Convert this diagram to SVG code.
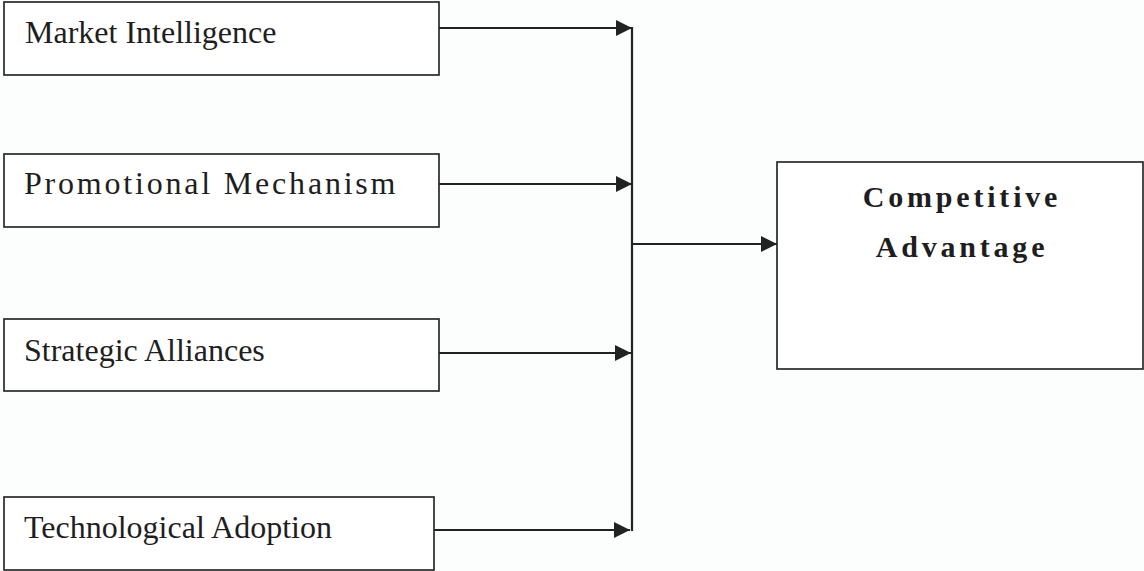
<svg xmlns="http://www.w3.org/2000/svg" width="1144" height="571" viewBox="0 0 1144 571">
  <style>
    .box { fill: #ffffff; stroke: #2a2a2a; stroke-width: 1.7; }
    .lbl { font-family: "Liberation Serif", "Times New Roman", serif; font-size: 32px; fill: #1e1e1e; }
    .big { font-family: "Liberation Serif", "Times New Roman", serif; font-size: 30px; font-weight: bold; fill: #1e1e1e; letter-spacing: 3.8px; }
    .conn { stroke: #222222; stroke-width: 2.2; fill: none; }
  </style>
  <defs>
    <marker id="arr" viewBox="0 0 16 16" markerUnits="userSpaceOnUse" markerWidth="16" markerHeight="16" refX="16" refY="8" orient="auto">
      <path d="M0,0 L16,8 L0,16 z" fill="#222222"/>
    </marker>
  </defs>
  <rect width="1144" height="571" fill="#fcfdfd"/>

  <g id="market-intelligence">
    <rect class="box" x="4" y="2" width="435" height="73"/>
    <text class="lbl" x="25" y="43">Market Intelligence</text>
  </g>
  <g id="promotional-mechanism">
    <rect class="box" x="4" y="154" width="435" height="73"/>
    <text class="lbl" x="24" y="194" letter-spacing="2.8">Promotional Mechanism</text>
  </g>
  <g id="strategic-alliances">
    <rect class="box" x="4" y="319" width="435" height="72"/>
    <text class="lbl" x="24" y="361">Strategic Alliances</text>
  </g>
  <g id="technological-adoption">
    <rect class="box" x="4" y="497" width="430" height="73"/>
    <text class="lbl" x="24" y="538">Technological Adoption</text>
  </g>
  <g id="competitive-advantage">
    <rect class="box" x="777" y="162" width="366" height="207"/>
    <text class="big" x="962" y="207" text-anchor="middle">Competitive</text>
    <text class="big" x="962" y="257" text-anchor="middle">Advantage</text>
  </g>

  <g id="connectors">
    <line class="conn" x1="439" y1="28" x2="632" y2="28" marker-end="url(#arr)"/>
    <line class="conn" x1="439" y1="184" x2="632" y2="184" marker-end="url(#arr)"/>
    <line class="conn" x1="439" y1="353" x2="631" y2="353" marker-end="url(#arr)"/>
    <line class="conn" x1="434" y1="530" x2="630" y2="530" marker-end="url(#arr)"/>
    <line class="conn" x1="632" y1="27" x2="632" y2="531"/>
    <line class="conn" x1="632" y1="244" x2="777" y2="244" marker-end="url(#arr)"/>
  </g>
</svg>
